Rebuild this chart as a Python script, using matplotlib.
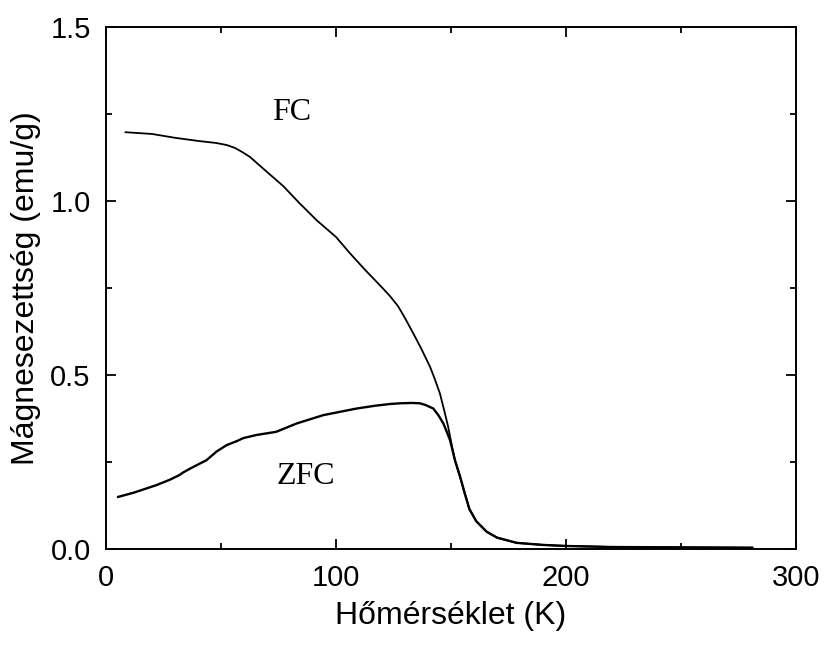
import matplotlib
matplotlib.use("Agg")
import matplotlib.pyplot as plt
from matplotlib.ticker import MultipleLocator, FormatStrFormatter

# FC curve (field cooled)
fc_T = [8.5, 20, 30, 40, 48, 52.6, 56, 59, 62.6, 65.5, 70, 77.1, 84, 91.6, 100,
        106.1, 113, 120, 123.5, 127, 130, 133.6, 137, 140.9, 143, 145.2, 147,
        148.8, 150.3, 151.7, 154, 156, 158, 161, 165.5, 170, 178.5, 190, 200,
        220, 250, 281]
fc_M = [1.198, 1.193, 1.182, 1.173, 1.167, 1.161, 1.153, 1.142, 1.127, 1.110,
        1.084, 1.043, 0.995, 0.945, 0.897, 0.850, 0.80, 0.752, 0.727, 0.698,
        0.664, 0.62, 0.577, 0.524, 0.488, 0.447, 0.40, 0.351, 0.30, 0.256,
        0.205, 0.16, 0.115, 0.08, 0.05, 0.033, 0.018, 0.012, 0.009, 0.006,
        0.005, 0.004]

# ZFC curve (zero field cooled)
zfc_T = [5.3, 12, 22, 28, 32, 33.5, 36.5, 43.8, 48, 52.5, 56.8, 59.7, 65.5, 74,
         82.9, 94.5, 109, 117, 123.5, 128, 133, 136.5, 139, 142.3, 144.5, 146.7,
         148, 149.6, 151.7, 154, 156, 158, 161, 165.5, 170, 178.5, 190, 200,
         220, 250, 281]
zfc_M = [0.150, 0.162, 0.184, 0.200, 0.213, 0.220, 0.231, 0.256, 0.280, 0.299,
         0.310, 0.319, 0.328, 0.337, 0.361, 0.385, 0.404, 0.412, 0.417, 0.419,
         0.420, 0.419, 0.414, 0.404, 0.385, 0.361, 0.340, 0.313, 0.256, 0.208,
         0.16, 0.115, 0.08, 0.05, 0.033, 0.018, 0.012, 0.009, 0.006, 0.005, 0.004]

plt.rcParams["font.family"] = ["Liberation Sans", "DejaVu Sans"]

fig = plt.figure(figsize=(8.24, 6.46), dpi=100)
ax = fig.add_axes([0.1286, 0.150, 0.8374, 0.808])

ax.plot(fc_T, fc_M, color="black", lw=1.3)
ax.plot(zfc_T, zfc_M, color="black", lw=1.7)

serif = ["Liberation Serif", "DejaVu Serif"]
ax.text(80.8, 1.256, "FC", family=serif, fontsize=23, ha="center", va="center")
ax.text(87, 0.208, "ZFC", family=serif, fontsize=23, ha="center", va="center")

ax.set_xlim(0, 300)
ax.set_ylim(0, 1.5)
ax.xaxis.set_major_locator(MultipleLocator(100))
ax.xaxis.set_minor_locator(MultipleLocator(50))
ax.yaxis.set_major_locator(MultipleLocator(0.5))
ax.yaxis.set_minor_locator(MultipleLocator(0.25))
ax.yaxis.set_major_formatter(FormatStrFormatter("%.1f"))

ax.tick_params(which="both", direction="in", top=True, right=True, width=1.3)
ax.tick_params(which="major", length=7, labelsize=21, pad=11)
ax.tick_params(which="minor", length=4)
for s in ax.spines.values():
    s.set_linewidth(1.4)

ax.set_xlabel("Hőmérséklet (K)", fontsize=23, labelpad=6)
ax.set_ylabel("Mágnesezettség (emu/g)", fontsize=23, labelpad=7)

fig.savefig("out.png", dpi=100)
